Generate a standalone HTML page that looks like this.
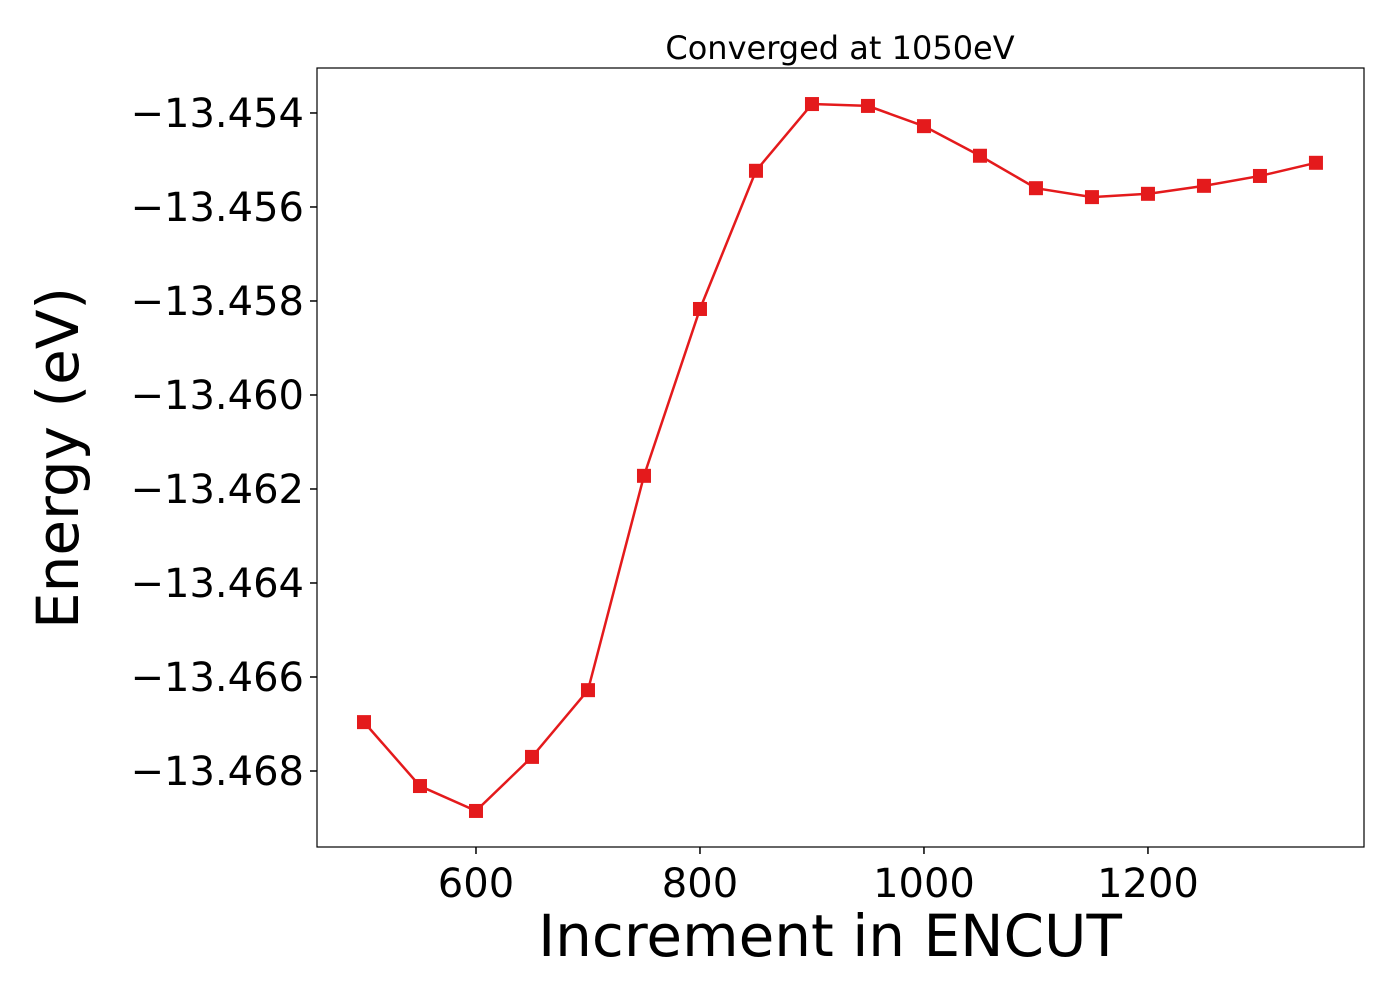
<!DOCTYPE html>
<html><head><meta charset="utf-8"><style>body{margin:0;background:#fff}</style></head>
<body>
<svg id="chart" width="1400" height="1000" xmlns="http://www.w3.org/2000/svg" font-family="'DejaVu Sans','Liberation Sans',sans-serif">
<rect width="1400" height="1000" fill="#fff"/>
<text x="840" y="59" font-size="32" text-anchor="middle">Converged at 1050eV</text>
<text x="830" y="956" font-size="58" text-anchor="middle">Increment in ENCUT</text>
<text transform="translate(78,458) rotate(-90)" font-size="58" text-anchor="middle">Energy (eV)</text>
<g id="plot"></g>
</svg>
<script>
const encut = [500,550,600,650,700,750,800,850,900,950,1000,1050,1100,1150,1200,1250,1300,1350];
const energy = [-13.46696,-13.46832,-13.46885,-13.46770,-13.46628,-13.46172,-13.45817,-13.45523,-13.45381,-13.45385,-13.45428,-13.45491,-13.45560,-13.45579,-13.45572,-13.45555,-13.45534,-13.45506];
const xTicks = [600,800,1000,1200];
const yTicks = [-13.454,-13.456,-13.458,-13.460,-13.462,-13.464,-13.466,-13.468];
const yTickLabels = ["\u221213.454","\u221213.456","\u221213.458","\u221213.460","\u221213.462","\u221213.464","\u221213.466","\u221213.468"];

const L=317,R=1364,T=68,B=847;
const xMin=458.04,xMax=1392.9,yMin=-13.469617,yMax=-13.453043;
const xs=v=>L+(v-xMin)/(xMax-xMin)*(R-L);
const ys=v=>B-(v-yMin)/(yMax-yMin)*(B-T);
const NS="http://www.w3.org/2000/svg";
const g=document.getElementById('plot');
function mk(tag,attrs){const e=document.createElementNS(NS,tag);for(const k in attrs)e.setAttribute(k,attrs[k]);g.appendChild(e);return e;}
xTicks.forEach(v=>{
  const t=mk('line',{x1:xs(v),x2:xs(v),y1:B,y2:B+7,stroke:'#000','stroke-width':1.5});
  
  
  const l=mk('text',{x:xs(v),y:B+50,'font-size':40,'text-anchor':'middle'});
  l.textContent=v;
  
  
});
yTicks.forEach((v,i)=>{
  const t=mk('line',{x1:L-7,x2:L,y1:ys(v),y2:ys(v),stroke:'#000','stroke-width':1.5});
  
  
  const l=mk('text',{x:L-13,y:ys(v)+14,'font-size':40,'text-anchor':'end'});
  l.textContent=yTickLabels[i];
  
  
});
const line=mk('polyline',{points:encut.map((v,i)=>xs(v)+','+ys(energy[i])).join(' '),fill:'none',stroke:'#e41a1c','stroke-width':2.5});


encut.forEach((v,i)=>{
  const m=mk('rect',{x:xs(v)-7,y:ys(energy[i])-7,width:14,height:14,fill:'#e41a1c'});
  
  
});
const frame=mk('rect',{x:L,y:T,width:R-L,height:B-T,fill:'none',stroke:'#000','stroke-width':1.2});


</script>
</body></html>
